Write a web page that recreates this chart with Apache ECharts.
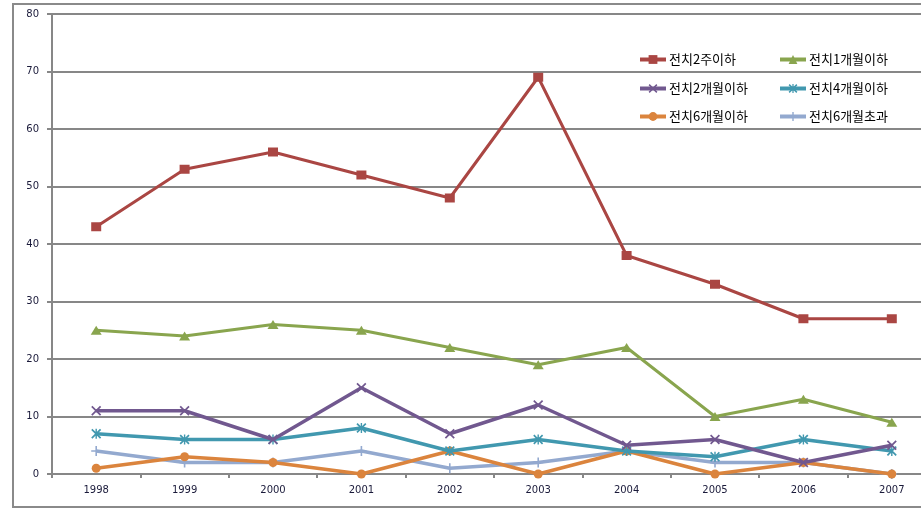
<!DOCTYPE html>
<html>
<head>
<meta charset="utf-8">
<script src="https://cdn.jsdelivr.net/npm/echarts@6/dist/echarts.min.js"></script>
<style>html,body{margin:0;padding:0;background:#fff;overflow:hidden;width:921px;height:523px;}#c{width:960px;height:523px;}</style>
</head>
<body>
<div id="c"></div>
<script>
var years = ['1998','1999','2000','2001','2002','2003','2004','2005','2006','2007'];
var seriesNames = ['전치2주이하','전치1개월이하','전치2개월이하','전치4개월이하','전치6개월이하','전치6개월초과'];
var s2w  = [43, 53, 56, 52, 48, 69, 38, 33, 27, 27];
var s1m  = [25, 24, 26, 25, 22, 19, 22, 10, 13, 9];
var s2m  = [11, 11, 6, 15, 7, 12, 5, 6, 2, 5];
var s4m  = [7, 6, 6, 8, 4, 6, 4, 3, 6, 4];
var s6m  = [1, 3, 2, 0, 4, 0, 4, 0, 2, 0];
var s6mp = [4, 2, 2, 4, 1, 2, 4, 2, 2, 0];
var yTicks = [0, 10, 20, 30, 40, 50, 60, 70, 80];

var values = [s2w, s1m, s2m, s4m, s6m, s6mp];
var colors = ['#AA4643', '#89A54E', '#71588F', '#4198AF', '#DB843D', '#93A9CF'];
var X_SYM = 'path://M0,1.2 L1.2,0 L10,8.8 L8.8,10 Z M8.8,0 L10,1.2 L1.2,10 L0,8.8 Z';
var AST_SYM = 'path://M0,1.2 L1.2,0 L10,8.8 L8.8,10 Z M8.8,0 L10,1.2 L1.2,10 L0,8.8 Z M4.3,0 L5.7,0 L5.7,10 L4.3,10 Z';
var PLUS_SYM = 'path://M4.2,0 L5.8,0 L5.8,10 L4.2,10 Z M0,4.2 L10,4.2 L10,5.8 L0,5.8 Z';
var symbols = ['rect', 'triangle', X_SYM, AST_SYM, 'circle', PLUS_SYM];
var symSizes = [[10, 9], [11, 9], 10, 10, 9, 10];
var widths = [3, 3, 3.5, 3.5, 3.5, 3.5];

var gray = '#878787';
var series = values.map(function (v, i) {
  return {
    name: seriesNames[i],
    type: 'line',
    data: v,
    symbol: symbols[i],
    symbolSize: symSizes[i],
    showAllSymbol: true,
    color: colors[i],
    lineStyle: { color: colors[i], width: widths[i] },
    itemStyle: { color: colors[i], borderWidth: 0 },
    z: 10 - i,
    animation: false
  };
});

var rowCenters = [61, 90, 118];
var colLeft = [638, 778];
var legends = [];
for (var i = 0; i < 6; i++) {
  var col = i % 2, row = Math.floor(i / 2);
  legends.push({
    data: [seriesNames[i]],
    left: colLeft[col],
    top: rowCenters[row] - 8,
    itemWidth: 26,
    itemHeight: 11,
    itemGap: 0,
    padding: 0,
    lineStyle: { width: 4 },
    textStyle: { fontFamily: 'Noto Sans CJK KR', fontSize: 13, color: '#000', padding: [0, 0, 0, -2] },
    selectedMode: false
  });
}

var chart = echarts.init(document.getElementById('c'), null, { renderer: 'canvas' });
chart.setOption({
  animation: false,
  backgroundColor: '#fff',
  graphic: [{
    type: 'rect',
    shape: { x: 13, y: 4, width: 940, height: 503 },
    style: { fill: 'none', stroke: '#8a8a8a', lineWidth: 2 },
    z: -1, silent: true
  }],
  grid: { left: 52, top: 14, width: 884, height: 460 },
  legend: legends,
  xAxis: {
    type: 'category',
    data: years,
    boundaryGap: true,
    axisLine: { lineStyle: { color: gray, width: 2 } },
    axisTick: { show: true, interval: 0, length: 4, lineStyle: { color: gray, width: 2 } },
    axisLabel: { margin: 11, fontFamily: 'DejaVu Sans', fontSize: 10, color: '#1a1a3a' },
    splitLine: { show: false }
  },
  yAxis: {
    type: 'value',
    min: yTicks[0],
    max: yTicks[yTicks.length - 1],
    interval: 10,
    axisLine: { show: true, lineStyle: { color: gray, width: 2 } },
    axisTick: { show: true, length: 5, lineStyle: { color: gray, width: 2 } },
    axisLabel: { margin: 13, fontFamily: 'DejaVu Sans', fontSize: 10, color: '#1a1a3a' },
    splitLine: { show: true, lineStyle: { color: gray, width: 2 } }
  },
  series: series
});
</script>
</body>
</html>
